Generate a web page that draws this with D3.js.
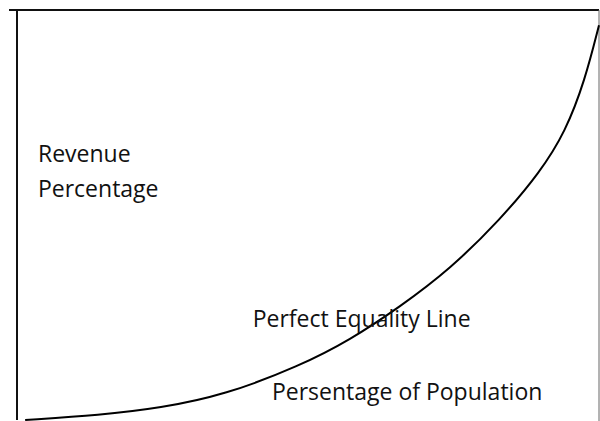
<!DOCTYPE html>
<html>
<head>
<meta charset="utf-8">
<script src="https://cdn.jsdelivr.net/npm/d3@7"></script>
<style>
  body { margin: 0; background: #fff; }
  text { font-family: "Open Sans", "Noto Sans", sans-serif; fill: #111; }
</style>
</head>
<body>
<script>
let w = 600;
let h = 421;

// curve (percent of population vs percent of revenue)
let popPct = [1.4, 14.3, 24.6, 35.7, 48.6, 57.2, 65.8, 74.4, 83.0, 89.9, 94.2, 97.6, 100];
let revPct = [0, 1.2, 2.9, 6.1, 13.2, 19.5, 27.6, 36.8, 48.8, 60.5, 70.2, 82.9, 96.3];

let labels = [
  {text: "Revenue", x: 3.6, y: 63.0},
  {text: "Percentage", x: 3.6, y: 54.5},
  {text: "Perfect Equality Line", x: 40.5, y: 22.6},
  {text: "Persentage of Population", x: 43.8, y: 5.0}
];

let svg = d3.select("body").append("svg").attr("width", w).attr("height", h);

let x = d3.scaleLinear().domain([0, 100]).range([17, 599]);
let y = d3.scaleLinear().domain([0, 100]).range([420, 10]);

// frame: top and left heavy lines, thin right edge
svg.append("line")
    .attr("x1", x(0) - 8).attr("x2", x(100))
    .attr("y1", y(100)).attr("y2", y(100))
    .attr("stroke", "#111").attr("stroke-width", 2);

svg.append("line")
    .attr("x1", x(0)).attr("x2", x(0))
    .attr("y1", y(100)).attr("y2", y(0))
    .attr("stroke", "#111").attr("stroke-width", 2);

svg.append("line")
    .attr("x1", x(100)).attr("x2", x(100))
    .attr("y1", y(100)).attr("y2", h)
    .attr("stroke", "#666").attr("stroke-width", 1);

let data = popPct.map((p, i) => ({p: p, r: revPct[i]}));

let line = d3.line()
    .x(d => x(d.p))
    .y(d => y(d.r))
    .curve(d3.curveBasis);

svg.append("path")
    .datum(data)
    .attr("d", line)
    .attr("fill", "none")
    .attr("stroke", "#000")
    .attr("stroke-width", 2);

svg.selectAll("text.lbl")
    .data(labels)
    .enter().append("text")
    .attr("class", "lbl")
    .attr("x", d => x(d.x))
    .attr("y", d => y(d.y))
    .attr("font-size", 23)
    .text(d => d.text);
</script>
</body>
</html>
